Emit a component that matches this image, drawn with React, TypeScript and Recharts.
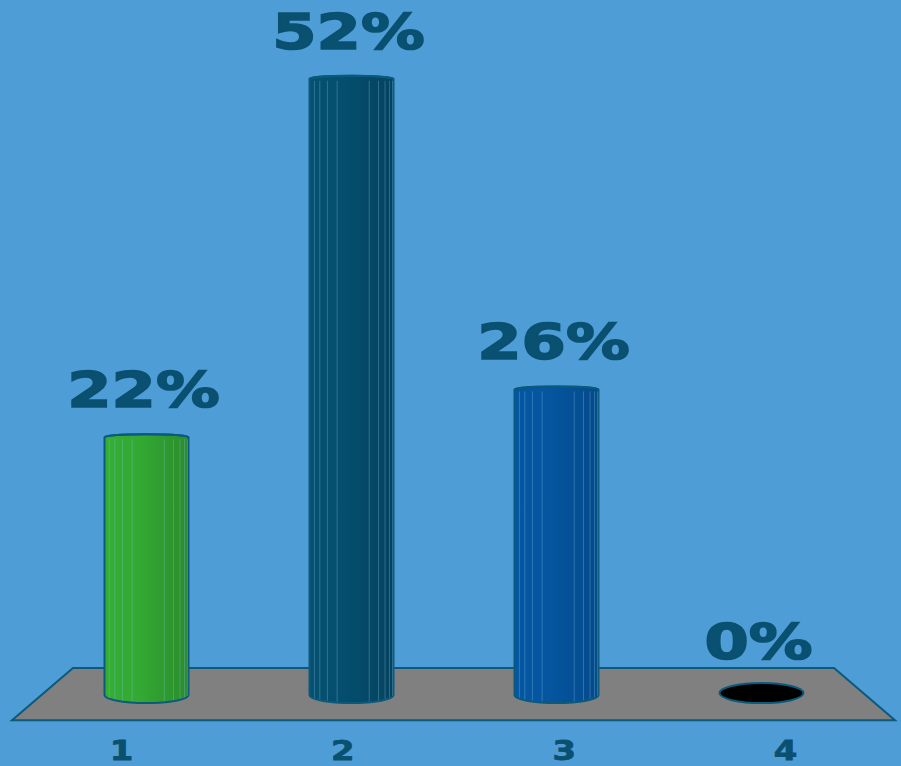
import { Bar, BarChart, LabelList, ReferenceArea, XAxis, YAxis } from "recharts";

const categories = ["1", "2", "3", "4"];
const shares = [22, 52, 26, 0];
const barTones = ["green", "teal", "blue", "hole"];

// floor slab, in % units around the zero line
const floorTop = 2.6;
const floorBottom = -1.76;

const BG = "#4F9DD6";
const INK = "#0A5070";
const EDGE = "#0B5A7C";

const palette: Record<string, [string, string, string]> = {
  green: ["#34AE34", "#33AA33", "#2B8C2B"],
  teal: ["#06506F", "#054E6E", "#04435F"],
  blue: ["#0557A2", "#0555A0", "#044A8A"],
};

// facet edges seen on the cylinders (degrees round the visible half)
const facetAngles = [28, 41, 55, 70, 115, 130, 143, 155, 168];

const data = categories.map((c, i) => ({ name: c, share: shares[i], tone: barTones[i] }));

function Cylinder(props: any) {
  const { x, y, width, height, payload } = props;
  const base = y + height;
  if (payload.tone === "hole" || height < 1) {
    const cx = x + width / 2;
    return (
      <ellipse cx={cx} cy={base - 6} rx={width / 2} ry={10} fill="#000" stroke={EDGE} strokeWidth={2} />
    );
  }
  const rx = width / 2;
  const top = y + 1;
  const bot = base - 4;
  const d = `M${x},${top} L${x},${bot} A${rx},8 0 0 0 ${x + width},${bot} L${x + width},${top} A${rx},3 0 0 0 ${x},${top} Z`;
  const facets = facetAngles.map(a => {
    const px = x + (width * (1 - Math.cos((a * Math.PI) / 180))) / 2;
    const drop = 8 * Math.sin((a * Math.PI) / 180);
    return (
      <line key={a} x1={px} x2={px} y1={top + 2} y2={bot + drop - 1} stroke="#7FB8E0" strokeOpacity={0.35} strokeWidth={1} />
    );
  });
  return (
    <g>
      <path d={d} fill={`url(#grad-${payload.tone})`} stroke={EDGE} strokeWidth={2} />
      {facets}
      <path
        d={`M${x},${top} A${rx},3 0 0 1 ${x + width},${top}`}
        fill="none"
        stroke={EDGE}
        strokeWidth={2}
      />
    </g>
  );
}

function Floor(props: any) {
  const { x, y, width, height } = props;
  const pts = [
    [x - 31.5, y + height],
    [x + width + 31.5, y + height],
    [x + width - 29.5, y],
    [x + 29.5, y],
  ]
    .map(p => p.join(","))
    .join(" ");
  return <polygon points={pts} fill="#808080" stroke={EDGE} strokeWidth={2} />;
}

function ValueLabel(props: any) {
  const { x, y, width, value } = props;
  const cx = x + width / 2 - 3;
  const by = value === 0 ? y - 40 : y - 29;
  return (
    <text
      transform={`translate(${cx},${by}) scale(1.3,1)`}
      textAnchor="middle"
      fill={INK}
      stroke={INK}
      strokeWidth={1.6}
      fontFamily="DejaVu Sans"
      fontWeight="bold"
      fontSize={49}
    >
      {`${value}%`}
    </text>
  );
}

function CategoryTick(props: any) {
  const { x, y, payload } = props;
  const px = 453.5 + (x - 453.5) * 1.08;
  return (
    <text
      transform={`translate(${px},${y + 29}) scale(1.3,1)`}
      textAnchor="middle"
      fill={INK}
      stroke={INK}
      strokeWidth={0.8}
      fontFamily="DejaVu Sans"
      fontWeight="bold"
      fontSize={26}
    >
      {payload.value}
    </text>
  );
}

export default function App() {
  return (
    <div style={{ position: "fixed", left: 0, top: 0, width: 901, height: 766, background: BG }}>
      <BarChart width={901} height={766} data={data} margin={{ top: 30, right: 37.5, bottom: 0, left: 43.5 }}>
        <defs>
          {Object.entries(palette).map(([k, c]) => (
            <linearGradient key={k} id={`grad-${k}`} x1="0" y1="0" x2="1" y2="0">
              <stop offset="0%" stopColor={c[0]} />
              <stop offset="40%" stopColor={c[1]} />
              <stop offset="100%" stopColor={c[2]} />
            </linearGradient>
          ))}
        </defs>
        <XAxis dataKey="name" axisLine={false} tickLine={false} height={43} tick={<CategoryTick />} interval={0} />
        <YAxis hide domain={[-2, 56]} />
        <ReferenceArea y1={floorBottom} y2={floorTop} shape={<Floor />} ifOverflow="visible" />
        <Bar dataKey="share" barSize={84} shape={<Cylinder />} isAnimationActive={false}>
          <LabelList dataKey="share" content={<ValueLabel />} />
        </Bar>
      </BarChart>
    </div>
  );
}
